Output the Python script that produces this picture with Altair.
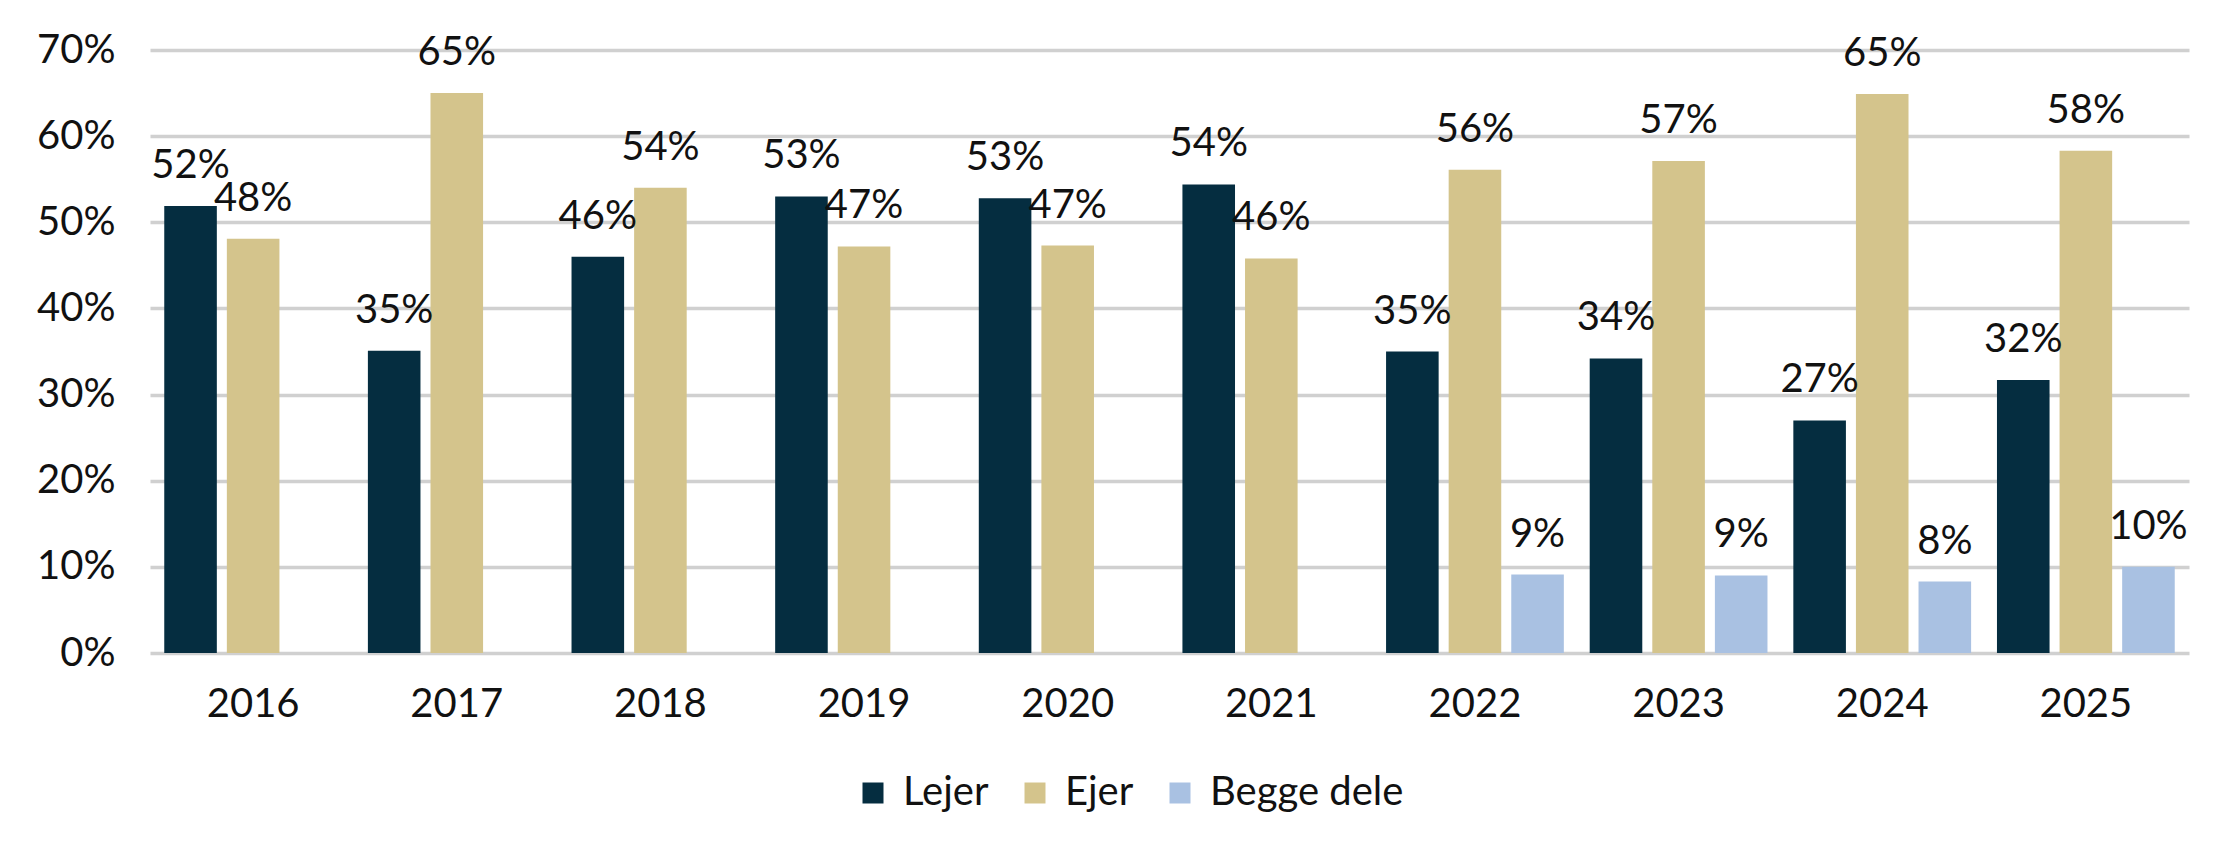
import altair as alt
import pandas as pd

years = ["2016", "2017", "2018", "2019", "2020", "2021", "2022", "2023", "2024", "2025"]
series_names = ["Lejer", "Ejer", "Begge dele"]
lejer = [0.519, 0.351, 0.460, 0.530, 0.528, 0.544, 0.350, 0.342, 0.270, 0.317]
ejer = [0.481, 0.650, 0.540, 0.472, 0.473, 0.458, 0.561, 0.571, 0.649, 0.583]
begge = [None, None, None, None, None, None, 0.091, 0.090, 0.083, 0.100]
colors = ["#052D40", "#D4C48C", "#A9C1E2"]
y_ticks = [0, 0.1, 0.2, 0.3, 0.4, 0.5, 0.6, 0.7]

rows = []
for name, vals in zip(series_names, [lejer, ejer, begge]):
    for yr, v in zip(years, vals):
        if v is not None:
            rows.append({"year": yr, "series": name, "value": v})
df = pd.DataFrame(rows)

FONT = "Lato"
TXT = "#111111"

base = alt.Chart(df).encode(
    x=alt.X(
        "year:N",
        sort=years,
        scale=alt.Scale(paddingInner=0.127, paddingOuter=0.07),
        axis=alt.Axis(
            title=None, labelAngle=0, labelFontSize=40, labelPadding=31,
            ticks=False, domain=False, grid=False, labelFont=FONT, labelColor=TXT,
        ),
    ),
    xOffset=alt.XOffset(
        "series:N", sort=series_names,
        scale=alt.Scale(domain=series_names, paddingInner=0.16, paddingOuter=0),
    ),
    y=alt.Y(
        "value:Q",
        scale=alt.Scale(domain=[0, 0.7], nice=False),
        axis=alt.Axis(
            values=y_ticks, format=".0%", title=None, labelFontSize=40,
            labelPadding=35, ticks=False, domain=False, gridColor="#D0D0D0",
            gridWidth=3.5, labelFont=FONT, labelColor=TXT,
        ),
    ),
)

bars = base.mark_bar().encode(
    color=alt.Color(
        "series:N",
        sort=series_names,
        scale=alt.Scale(domain=series_names, range=colors),
        legend=alt.Legend(
            title=None, orient="none", direction="horizontal",
            legendX=703, legendY=723, symbolType="square", symbolSize=441,
            symbolStrokeWidth=0, labelFontSize=40, labelFont=FONT,
            labelColor=TXT, labelOffset=10, columnPadding=26, labelLimit=0,
        ),
    )
)

text = base.mark_text(
    dy=-28, baseline="alphabetic", align="center", fontSize=40, font=FONT, color=TXT
).encode(text=alt.Text("value:Q", format=".0%"))

chart = (
    alt.layer(bars, text)
    .properties(
        width=2039,
        height=603,
        padding={"left": 142, "top": 42, "right": 42, "bottom": 198},
        autosize=alt.AutoSizeParams(type="none"),
        background="white",
    )
    .configure_view(stroke=None)
)

chart.save("out.html", embed_options={"renderer": "svg", "actions": False})
